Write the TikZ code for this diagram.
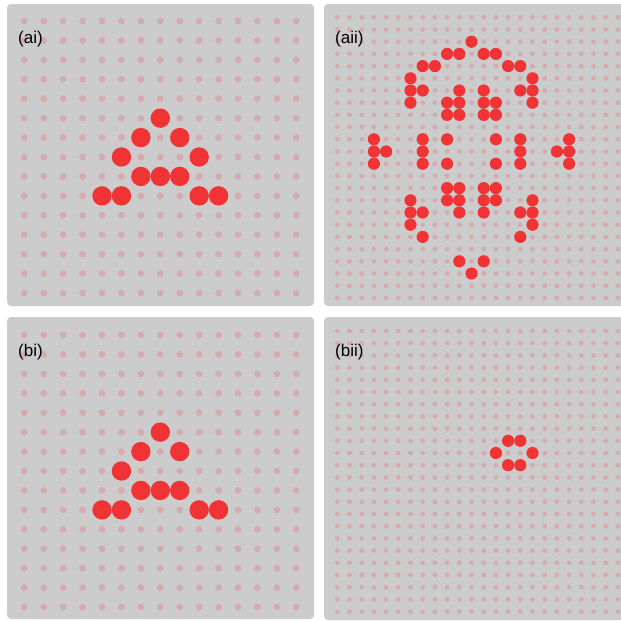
\documentclass[tikz,border=0pt]{standalone}
\usepackage{fontspec}
\setmainfont{Liberation Sans}
\definecolor{panelgray}{RGB}{204,204,204}
\definecolor{dotred}{RGB}{240,52,54}
\definecolor{dotpink}{RGB}{212,172,174}
\begin{document}
\begin{tikzpicture}[x=1pt,y=-1pt,
  panel/.style={fill=panelgray, rounded corners=4pt},
  lbl/.style={anchor=base west, inner sep=0pt, font=\fontsize{17}{20}\selectfont},
  bgdot/.style={fill=dotpink},
  livedot/.style={fill=dotred}]
\useasboundingbox (0,0) rectangle (621,621);
\clip (0,0) rectangle (621,621);
\fill[white] (0,0) rectangle (621,621);
% ---------- panel (ai) ----------
\fill[panel] (7,4) rectangle (314,306);
\foreach \c in {0,...,14}
  \foreach \r in {0,...,14}
    \fill[bgdot] ({24.3+19.43*\c},{21+19.43*\r}) circle[radius=3.4pt];
\foreach \c/\r in {7/5,6/6,8/6,5/7,9/7,6/8,7/8,8/8,4/9,5/9,9/9,10/9}
  \fill[livedot] ({24.3+19.43*\c},{21+19.43*\r}) circle[radius=9.7pt];
\node[lbl] (lai) at (18,43) {(ai)};
% ---------- panel (bi) ----------
\fill[panel] (7,317) rectangle (314,619);
\foreach \c in {0,...,14}
  \foreach \r in {0,...,14}
    \fill[bgdot] ({24.3+19.43*\c},{335+19.43*\r}) circle[radius=3.4pt];
\foreach \c/\r in {7/5,6/6,8/6,5/7,6/8,7/8,8/8,4/9,5/9,9/9,10/9}
  \fill[livedot] ({24.3+19.43*\c},{335+19.43*\r}) circle[radius=9.7pt];
\node[lbl] (lbi) at (18,356) {(bi)};
% ---------- panel (aii) ----------
\fill[panel] (324,4) rectangle (632,306);
\foreach \c in {0,...,23}
  \foreach \r in {0,...,23}
    \fill[bgdot] ({337.3+12.2*\c},{17.3+12.2*\r}) circle[radius=2.4pt];
\foreach \c/\r in {11/2,
  9/3,10/3,12/3,13/3,
  7/4,8/4,14/4,15/4,
  6/5,16/5,
  6/6,7/6,10/6,12/6,15/6,16/6,
  6/7,9/7,10/7,12/7,13/7,16/7,
  9/8,10/8,12/8,13/8,
  3/10,7/10,9/10,13/10,15/10,19/10,
  3/11,4/11,7/11,15/11,18/11,19/11,
  3/12,7/12,9/12,13/12,15/12,19/12,
  9/14,10/14,12/14,13/14,
  6/15,9/15,10/15,12/15,13/15,16/15,
  6/16,7/16,10/16,12/16,15/16,16/16,
  6/17,16/17,
  7/18,15/18,
  10/20,12/20,
  11/21}
  \fill[livedot] ({337.3+12.2*\c},{17.3+12.2*\r}) circle[radius=6.1pt];
\node[lbl] (laii) at (335,43) {(aii)};
% ---------- panel (bii) ----------
\fill[panel] (324,317) rectangle (632,620);
\foreach \c in {0,...,23}
  \foreach \r in {0,...,23}
    \fill[bgdot] ({337.3+12.2*\c},{331+12.2*\r}) circle[radius=2.4pt];
\foreach \c/\r in {14/9,15/9,13/10,16/10,14/11,15/11}
  \fill[livedot] ({337.3+12.2*\c},{331+12.2*\r}) circle[radius=6.1pt];
\node[lbl] (lbii) at (335,356) {(bii)};
\end{tikzpicture}
\end{document}
